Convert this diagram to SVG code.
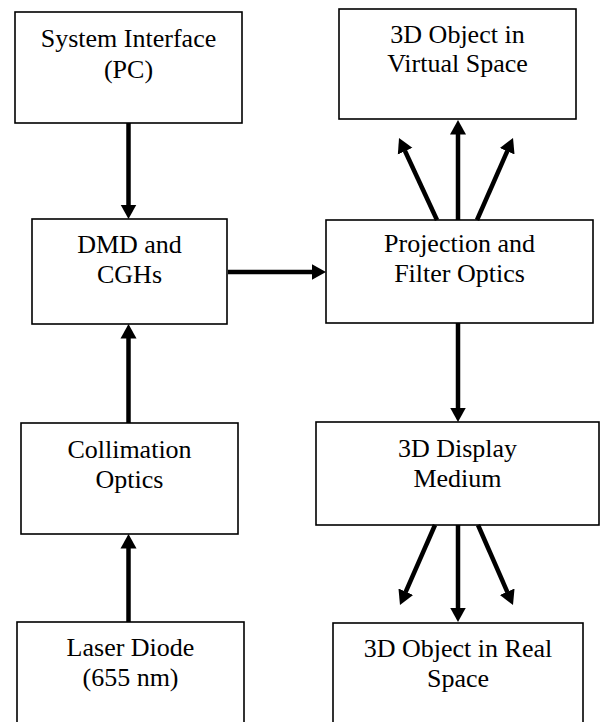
<svg xmlns="http://www.w3.org/2000/svg" width="601" height="722" viewBox="0 0 601 722">
<defs>
<style>
.box{fill:#fff;stroke:#000;stroke-width:1.6}
.t{font-family:"Liberation Serif","Times New Roman",serif;font-size:26px;fill:#000;text-anchor:middle}
.c{stroke:#000;stroke-width:4.5;fill:none;marker-end:url(#ah)}
</style>
<marker id="ah" markerUnits="userSpaceOnUse" markerWidth="16" markerHeight="18" viewBox="0 -9 16 18" refX="0.5" refY="0" orient="auto">
<path d="M0,-8 L14.5,0 L0,8 z" fill="#000"/>
</marker>
</defs>
<rect width="601" height="722" fill="#fff"/>
<g id="sys"><rect class="box" x="15" y="12" width="227" height="111"/><text class="t" x="128.5" y="47">System Interface</text><text class="t" x="128.5" y="78">(PC)</text></g>
<g id="dmd"><rect class="box" x="32" y="219" width="195" height="105"/><text class="t" x="129.5" y="253">DMD and</text><text class="t" x="129.5" y="283">CGHs</text></g>
<g id="coll"><rect class="box" x="21" y="423" width="217" height="111"/><text class="t" x="129.5" y="458">Collimation</text><text class="t" x="129.5" y="488">Optics</text></g>
<g id="laser"><rect class="box" x="17" y="622" width="227" height="110"/><text class="t" x="130.5" y="656">Laser Diode</text><text class="t" x="130.5" y="686">(655 nm)</text></g>
<g id="virt"><rect class="box" x="339" y="9" width="237" height="110"/><text class="t" x="457.5" y="43">3D Object in</text><text class="t" x="457.5" y="72">Virtual Space</text></g>
<g id="proj"><rect class="box" x="326" y="220" width="267" height="103"/><text class="t" x="459.5" y="252">Projection and</text><text class="t" x="459.5" y="282">Filter Optics</text></g>
<g id="disp"><rect class="box" x="316" y="422" width="283" height="103"/><text class="t" x="457.5" y="457">3D Display</text><text class="t" x="457.5" y="487">Medium</text></g>
<g id="real"><rect class="box" x="333" y="623" width="250" height="110"/><text class="t" x="458" y="657">3D Object in Real</text><text class="t" x="458" y="687">Space</text></g>
<g id="connectors">
<line class="c" x1="128.5" y1="123" x2="128.5" y2="205"/>
<line class="c" x1="128.5" y1="423" x2="128.5" y2="338"/>
<line class="c" x1="128.5" y1="622" x2="128.5" y2="548"/>
<line class="c" x1="228" y1="272" x2="312" y2="272"/>
<line class="c" x1="458" y1="220" x2="458" y2="134"/>
<line class="c" x1="437" y1="220" x2="404.9" y2="150.7"/>
<line class="c" x1="477" y1="220" x2="507.4" y2="150.8"/>
<line class="c" x1="458" y1="323" x2="458" y2="408"/>
<line class="c" x1="458" y1="525" x2="458" y2="608"/>
<line class="c" x1="435" y1="525" x2="405.6" y2="592.2"/>
<line class="c" x1="478" y1="525" x2="507.4" y2="592.2"/>
</g>
</svg>
